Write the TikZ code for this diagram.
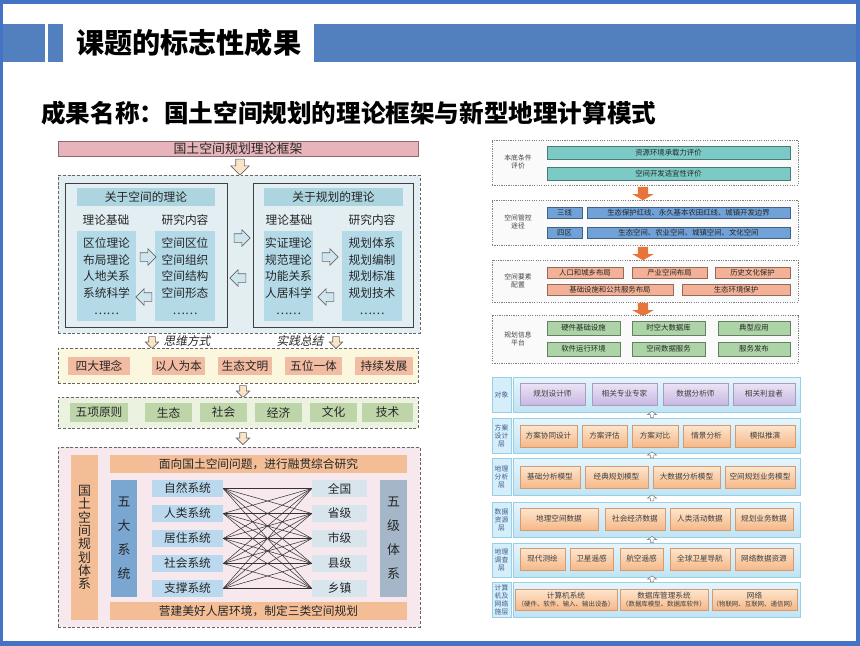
\documentclass[tikz,border=0pt]{standalone}
\usepackage{fontspec}
\setmainfont{Noto Sans CJK SC}
\newfontfamily\slantfont{Noto Sans CJK SC}[FakeSlant=0.2]
\usetikzlibrary{
    arrows.meta,
    positioning,
    fit,
    shapes.arrows
}
\definecolor{frameblue}{RGB}{68,114,196}
\definecolor{hdrblue}{RGB}{82,128,190}
\definecolor{pinkhead}{RGB}{230,180,186}
\definecolor{lbluebg}{RGB}{226,238,242}
\definecolor{tealhead}{RGB}{172,213,223}
\definecolor{listblue}{RGB}{180,218,232}
\definecolor{arrowbeige}{RGB}{250,228,200}
\definecolor{arrowblue}{RGB}{208,230,238}
\definecolor{yellowbg}{RGB}{250,247,222}
\definecolor{salmon}{RGB}{242,188,162}
\definecolor{greenbg}{RGB}{236,242,224}
\definecolor{greencell}{RGB}{190,213,170}
\definecolor{pinkbg}{RGB}{246,232,236}
\definecolor{orangebar}{RGB}{243,190,150}
\definecolor{sysbar}{RGB}{122,166,210}
\definecolor{syscell}{RGB}{186,217,238}
\definecolor{lvlcell}{RGB}{216,229,237}
\definecolor{lvlbar}{RGB}{164,182,200}
\definecolor{tealbar}{RGB}{124,202,198}
\definecolor{bluebar}{RGB}{112,162,216}
\definecolor{pinkbar}{RGB}{243,178,152}
\definecolor{greenbar}{RGB}{172,212,166}
\definecolor{orangearr}{RGB}{232,116,58}
\definecolor{layertop}{RGB}{230,245,252}
\definecolor{layerbot}{RGB}{192,228,244}
\definecolor{layerdraw}{RGB}{150,208,232}
\definecolor{labblue}{RGB}{214,238,249}
\definecolor{labtext}{RGB}{60,92,140}
\definecolor{purpletop}{RGB}{236,228,246}
\definecolor{purplebot}{RGB}{200,184,226}
\definecolor{orangetop}{RGB}{253,230,206}
\definecolor{orangebot}{RGB}{246,184,136}
\tikzset{
    cellspan/.style args={#1/#2/#3/#4}{minimum width={(#3-#1)*0.03cm}, minimum height={(#4-#2)*0.03cm},
        at={({(#1+#3)/2},{(#2+#4)/2})}},
    panel/.style={fill=#1, draw=black!60, dash pattern=on 2.5pt off 1.6pt, line width=0.6pt, inner sep=0pt},
    theorybox/.style={fill=lbluebg, draw=black!75, line width=0.8pt, inner sep=0pt},
    cell/.style={fill=#1, inner sep=0pt, align=center, text=black!85, font=\fontsize{10pt}{12pt}\selectfont},
    listcell/.style={cell=listblue, font=\fontsize{10pt}{14.2pt}\selectfont},
    vcell/.style={cell=#1, font=\fontsize{11pt}{11.4pt}\selectfont},
    wcell/.style={cell=#1, font=\fontsize{11pt}{20.5pt}\selectfont},
    colhead/.style={text=black!85, font=\fontsize{10pt}{12pt}\selectfont},
    barrow/.style={single arrow, draw=black!60, fill=#1, inner sep=0.12cm,
        single arrow head extend=0.12cm, single arrow head indent=0cm,
        minimum height=0.48cm, line width=0.5pt},
    sarrow/.style={barrow=#1, inner sep=0.09cm, single arrow head extend=0.1cm, minimum height=0.36cm},
    link/.style={black!80, line width=0.45pt},
    rbox/.style={fill=black!2, draw=black!50, dash pattern=on 1pt off 1pt, line width=0.5pt, inner sep=0pt},
    rlab/.style={font=\fontsize{5.8pt}{7pt}\selectfont, align=center, text=black!75},
    rbar/.style={fill=#1, draw=#1!60!black, line width=0.5pt, inner sep=0pt,
        font=\fontsize{6.3pt}{7.5pt}\selectfont, text=black!85},
    oarrow/.style={single arrow, fill=orangearr, draw=none, inner sep=0.15cm,
        single arrow head extend=0.165cm, single arrow tip angle=120, minimum height=0.33cm},
    tarrow/.style={single arrow, fill=white, draw=black!55, line width=0.4pt, inner sep=0.045cm,
        single arrow head extend=0.09cm, single arrow tip angle=110, minimum height=0.18cm},
    layer/.style={top color=layertop, bottom color=layerbot, draw=layerdraw, line width=0.5pt, inner sep=0pt},
    laylab/.style={fill=labblue, draw=layerdraw, line width=0.5pt, inner sep=0pt, align=center,
        text=labtext, font=\fontsize{5.8pt}{6.8pt}\selectfont},
    item/.style={top color=#1top, bottom color=#1bot, draw=#1bot!85!black, line width=0.4pt,
        inner sep=0pt, align=center, text=black!75, font=\fontsize{6.5pt}{7.5pt}\selectfont}
}

\begin{document}
\begin{tikzpicture}[x=0.03cm, y=-0.03cm]
    \useasboundingbox (0,0) rectangle (860,646);
    % slide frame and header
    \fill[frameblue] (0,0) rectangle (860,646);
    \fill[white] (3,4) rectangle (856,641);
    \fill[hdrblue] (3,24) rectangle (45,62);
    \fill[hdrblue] (48,24) rectangle (63,62);
    \fill[hdrblue] (314,24) rectangle (856,62);
    \node[anchor=west, inner sep=0pt, font=\fontsize{24pt}{26pt}\selectfont\bfseries] (title) at (76,43) {课题的标志性成果};
    \node[anchor=west, inner sep=0pt, font=\fontsize{21pt}{23pt}\selectfont\bfseries] (subtitle) at (41,113) {成果名称：国土空间规划的理论框架与新型地理计算模式};

    % ---- left: theory framework ----
    \node[cell=pinkhead, draw=pinkhead!60!black, line width=0.5pt, cellspan=58/141/418/156, font=\fontsize{11pt}{13pt}\selectfont] (frame) {国土空间规划理论框架};
    \node[barrow=arrowbeige, rotate=-90, single arrow head extend=0.15cm] (a0) at (240,165) {};
    \node[panel=lbluebg, fit={(58,175) (420,333)}] (theory) {};

    \node[theorybox, fit={(65,183) (227,327)}] (space) {};
    \node[cell=tealhead, cellspan=77/188/215/206] (spaceh) {关于空间的理论};
    \node[colhead] (spaceb) at (106,220) {理论基础};
    \node[colhead] (spacec) at (185,220) {研究内容};
    \node[listcell, cellspan=77/231/136/321] (spacel) {区位理论\\布局理论\\人地关系\\系统科学\\……};
    \node[listcell, cellspan=155/231/215/321] (spacer) {空间区位\\空间组织\\空间结构\\空间形态\\……};
    \node[barrow=arrowblue] (sa1) at (146,257) {};
    \node[barrow=arrowblue, rotate=180] (sa2) at (146,297) {};

    \node[barrow=arrowblue] (ma1) at (240,238) {};
    \node[barrow=arrowblue, rotate=180] (ma2) at (240,278) {};

    \node[theorybox, fit={(253,183) (413,327)}] (plan) {};
    \node[cell=tealhead, cellspan=264/188/403/206] (planh) {关于规划的理论};
    \node[colhead] (planb) at (289,220) {理论基础};
    \node[colhead] (planc) at (372,220) {研究内容};
    \node[listcell, cellspan=264/231/313/321] (planl) {实证理论\\规范理论\\功能关系\\人居科学\\……};
    \node[listcell, cellspan=342/231/402/321] (planr) {规划体系\\规划编制\\规划标准\\规划技术\\……};
    \node[barrow=arrowblue] (pa1) at (328,257) {};
    \node[barrow=arrowblue, rotate=180] (pa2) at (328,297) {};

    \node[sarrow=arrowbeige, rotate=-90] (a1) at (152,341) {};
    \node[colhead, font=\fontsize{10pt}{12pt}\selectfont\slantfont] (think) at (187,341) {思维方式};
    \node[colhead, font=\fontsize{10pt}{12pt}\selectfont\slantfont] (prac) at (300,341) {实践总结};
    \node[sarrow=arrowbeige, rotate=-90] (a2) at (336,341) {};

    \node[panel=yellowbg, fit={(58,348) (418,383)}] (ideas) {};
    \foreach \a/\b/\t [count=\i] in {68/130/四大理念, 152/205/以人为本, 218/272/生态文明, 285/342/五位一体, 355/413/持续发展}{
        \node[cell=salmon, cellspan=\a/357/\b/375] (idea\i) {\t};
    }
    \node[sarrow=arrowbeige, rotate=-90] (a3) at (243,390) {};

    \node[panel=greenbg, fit={(58,397) (418,428)}] (rules) {};
    \foreach \a/\b/\t [count=\i] in {70/128/五项原则, 145/192/生态, 200/247/社会, 255/302/经济, 310/357/文化, 362/413/技术}{
        \node[cell=greencell, cellspan=\a/403/\b/422] (rule\i) {\t};
    }
    \node[sarrow=arrowbeige, rotate=-90] (a4) at (243,437) {};

    \node[panel=pinkbg, fit={(58,447) (420,627)}] (system) {};
    \node[vcell=orangebar, cellspan=71/455/98/620] (sysname) {国\\土\\空\\间\\规\\划\\体\\系};
    \node[cell=orangebar, cellspan=110/455/407/473] (sysTop) {面向国土空间问题，进行融贯综合研究};
    \node[cell=orangebar, cellspan=110/602/407/620] (sysBot) {营建美好人居环境，制定三类空间规划};
    \node[wcell=sysbar, cellspan=111/480/137/597] (fivesys) {五\\大\\系\\统};
    \node[wcell=lvlbar, cellspan=380/480/407/597] (fivelvl) {五\\级\\体\\系};
    \foreach \t [count=\i, evaluate=\i as \ya using 455+25*\i, evaluate=\i as \yb using 472+25*\i] in {自然系统, 人类系统, 居住系统, 社会系统, 支撑系统}{
        \node[cell=syscell, cellspan=152/\ya/223/\yb] (sys\i) {\t};
    }
    \foreach \t [count=\i, evaluate=\i as \ya using 455+25*\i, evaluate=\i as \yb using 472+25*\i] in {全国, 省级, 市级, 县级, 乡镇}{
        \node[cell=lvlcell, cellspan=312/\ya/367/\yb] (lvl\i) {\t};
    }
    \foreach \i in {1,...,5}{
        \foreach \j in {1,...,5}{
            \draw[link] (sys\i.east) -- (lvl\j.west);
        }
    }

    % ---- right top: planning control chain ----
    \node[rbox, fit={(492,140) (798,185)}] (basebox) {};
    \node[rlab] (baselab) at (518,162) {本底条件\\评价};
    \node[rbar=tealbar, cellspan=547/146/790/159] (eval1) {资源环境承载力评价};
    \node[rbar=tealbar, cellspan=547/167/790/180] (eval2) {空间开发适宜性评价};
    \node[oarrow, rotate=-90] (o1) at (643,192) {};

    \node[rbox, fit={(492,200) (798,245)}] (ctrlbox) {};
    \node[rlab] (ctrllab) at (518,222) {空间管控\\途径};
    \node[rbar=bluebar, cellspan=547/207/582/218] (line3) {三线};
    \node[rbar=bluebar, cellspan=587/207/790/218] (line3t) {生态保护红线、永久基本农田红线、城镇开发边界};
    \node[rbar=bluebar, cellspan=547/227/582/238] (zone4) {四区};
    \node[rbar=bluebar, cellspan=587/227/790/238] (zone4t) {生态空间、农业空间、城镇空间、文化空间};
    \node[oarrow, rotate=-90] (o2) at (643,252) {};

    \node[rbox, fit={(492,260) (798,302)}] (elembox) {};
    \node[rlab] (elemlab) at (518,281) {空间要素\\配置};
    \node[rbar=pinkbar, cellspan=547/267/623/278] (elem1) {人口和城乡布局};
    \node[rbar=pinkbar, cellspan=632/267/707/278] (elem2) {产业空间布局};
    \node[rbar=pinkbar, cellspan=715/267/790/278] (elem3) {历史文化保护};
    \node[rbar=pinkbar, cellspan=547/284/673/295] (elem4) {基础设施和公共服务布局};
    \node[rbar=pinkbar, cellspan=682/284/790/295] (elem5) {生态环境保护};
    \node[oarrow, rotate=-90] (o3) at (643,308) {};

    \node[rbox, fit={(492,315) (798,363)}] (infobox) {};
    \node[rlab] (infolab) at (518,339) {规划信息\\平台};
    \foreach \t/\a/\b [count=\i] in {硬件基础设施/547/620, 时空大数据库/632/705, 典型应用/718/790}{
        \node[rbar=greenbar, cellspan=\a/321/\b/335] (infoa\i) {\t};
    }
    \foreach \t/\a/\b [count=\i] in {软件运行环境/547/620, 空间数据服务/632/705, 服务发布/718/790}{
        \node[rbar=greenbar, cellspan=\a/342/\b/356] (infob\i) {\t};
    }

    % ---- right bottom: geo-computing layers ----
    \node[layer, fit={(513,377) (800,412)}] (L1) {};
    \node[laylab, cellspan=492/377/511/412] (L1lab) {对象};
    \foreach \t/\a/\b [count=\i] in {规划设计师/520/585, 相关专业专家/592/657, 数据分析师/663/728, 相关利益者/733/795}{
        \node[item=purple, cellspan=\a/383/\b/405] (u\i) {\t};
    }
    \node[layer, fit={(513,418) (800,453)}] (L2) {};
    \node[laylab, cellspan=492/418/511/453] (L2lab) {方案\\设计\\层};
    \foreach \t/\a/\b [count=\i] in {方案协同设计/520/577, 方案评估/582/627, 方案对比/632/678, 情景分析/683/730, 模拟推演/735/795}{
        \node[item=orange, cellspan=\a/425/\b/447] (d\i) {\t};
    }
    \node[layer, fit={(513,458) (800,495)}] (L3) {};
    \node[laylab, cellspan=492/458/511/495] (L3lab) {地理\\分析\\层};
    \foreach \t/\a/\b [count=\i] in {基础分析模型/520/580, 经典规划模型/585/648, 大数据分析模型/653/720, 空间规划业务模型/725/795}{
        \node[item=orange, cellspan=\a/466/\b/488] (m\i) {\t};
    }
    \node[layer, fit={(513,502) (800,537)}] (L4) {};
    \node[laylab, cellspan=492/502/511/537] (L4lab) {数据\\资源\\层};
    \foreach \t/\a/\b [count=\i] in {地理空间数据/520/598, 社会经济数据/605/665, 人类活动数据/670/730, 规划业务数据/735/793}{
        \node[item=orange, cellspan=\a/508/\b/530] (r\i) {\t};
    }
    \node[layer, fit={(513,543) (800,577)}] (L5) {};
    \node[laylab, cellspan=492/543/511/577] (L5lab) {地理\\调查\\层};
    \foreach \t/\a/\b [count=\i] in {现代测绘/520/565, 卫星遥感/570/613, 航空遥感/620/663, 全球卫星导航/670/730, 网络数据资源/735/793}{
        \node[item=orange, cellspan=\a/548/\b/570] (g\i) {\t};
    }
    \node[layer, fit={(513,582) (800,617)}] (L6) {};
    \node[laylab, cellspan=492/582/511/617] (L6lab) {计算\\机及\\网络\\施层};
    \node[item=orange, cellspan=515/589/617/610] (c1) {计算机系统\\{\fontsize{5.5pt}{6.5pt}\selectfont（硬件、软件、输入、输出设备）}};
    \node[item=orange, cellspan=620/589/708/610] (c2) {数据库管理系统\\{\fontsize{5.5pt}{6.5pt}\selectfont（数据库模型、数据库软件）}};
    \node[item=orange, cellspan=712/589/797/610] (c3) {网络\\{\fontsize{5.5pt}{6.5pt}\selectfont（物联网、互联网、通信网）}};

    \node[tarrow, rotate=90] (t1) at (652,415) {};
    \node[tarrow, rotate=90] (t2) at (652,455.5) {};
    \node[tarrow, rotate=90] (t3) at (652,498.5) {};
    \node[tarrow, rotate=90] (t4) at (652,540) {};
    \node[tarrow, rotate=90] (t5) at (652,579.5) {};
\end{tikzpicture}
\end{document}
